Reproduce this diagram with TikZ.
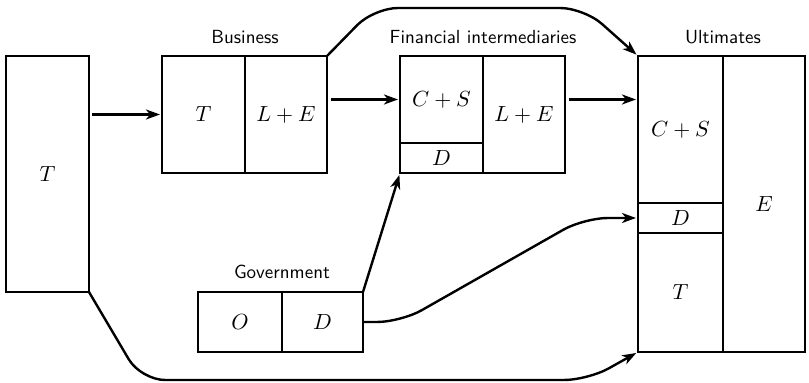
\documentclass[tikz,border=0pt]{standalone}
\usepackage{amsmath}
\usetikzlibrary{arrows.meta, positioning}

\begin{document}
\begin{tikzpicture}[x=0.5pt, y=-0.5pt, ->, >={Stealth[length=7pt, width=5pt, inset=2pt]}, shorten >= 1pt, line width=1.2pt, node distance=0pt]
        \tikzstyle{cell} = [rectangle, draw, inner sep=0pt, outer sep=0pt, font=\fontsize{11}{13}\selectfont]
        \tikzstyle{sector} = [inner sep=0pt, font=\sffamily\fontsize{9.5}{11}\selectfont]
        \tikzstyle{flow} = [rounded corners=12pt]

        \useasboundingbox (0,0) rectangle (809,383);

        \node[cell, minimum width=41.5pt, minimum height=118pt, anchor=north west] (tax) at (6,56) {$T$};

        % business
        \node[cell, minimum width=41.5pt, minimum height=58.5pt, anchor=north west] (bus_t) at (162,56) {$T$};
        \node[cell, minimum width=41pt, minimum height=58.5pt] (bus_le) [right=of bus_t] {$L+E$};

        % financial intermediaries
        \node[cell, minimum width=41.5pt, minimum height=43.5pt, anchor=north west] (fin_cs) at (400,56) {$C+S$};
        \node[cell, minimum width=41.5pt, minimum height=15pt] (fin_d) [below=of fin_cs] {$D$};
        \node[cell, minimum width=41pt, minimum height=58.5pt] (fin_le) [right=of fin_cs.north east, anchor=north west] {$L+E$};

        % ultimates
        \node[cell, minimum width=42.5pt, minimum height=73.5pt, anchor=north west] (ult_cs) at (638,56) {$C+S$};
        \node[cell, minimum width=42.5pt, minimum height=15pt] (ult_d) [below=of ult_cs] {$D$};
        \node[cell, minimum width=42.5pt, minimum height=59.5pt] (ult_t) [below=of ult_d] {$T$};
        \node[cell, minimum width=41pt, minimum height=148pt] (ult_e) [right=of ult_cs.north east, anchor=north west] {$E$};

        % government
        \node[cell, minimum width=42pt, minimum height=30pt, anchor=north west] (gov_o) at (198,292) {$O$};
        \node[cell, minimum width=40.5pt, minimum height=30pt] (gov_d) [right=of gov_o] {$D$};

        \node[sector, above=5.5pt of bus_t.north east] (bus_label) {Business};
        \node[sector, above=5.5pt of fin_cs.north east] (fin_label) {Financial intermediaries};
        \node[sector, above=5.5pt of ult_cs.north east] (ult_label) {Ultimates};
        \node[sector, above=6pt of gov_o.north east] (gov_label) {Government};

        \draw[shorten <=1.5pt] (tax.east |- bus_t.west) -- (bus_t.west);
        \draw[shorten <=2pt] (bus_le.east |- fin_cs.west) -- (fin_cs.west);
        \draw[shorten <=2pt] (fin_le.east |- fin_cs.west) -- (ult_cs.west |- fin_cs.west);
        \draw[flow] (bus_le.north east) -- (374,8) -- (584,8) -- (ult_cs.north west);
        \draw (gov_d.north east) -- (fin_d.south west);
        \draw[flow] (gov_d.east) -- ++(38,0) -- (584,218) -- (ult_d.west);
        \draw[flow] (tax.south east) -- (141,380) -- (588,380) -- (ult_t.south west);
\end{tikzpicture}
\end{document}
